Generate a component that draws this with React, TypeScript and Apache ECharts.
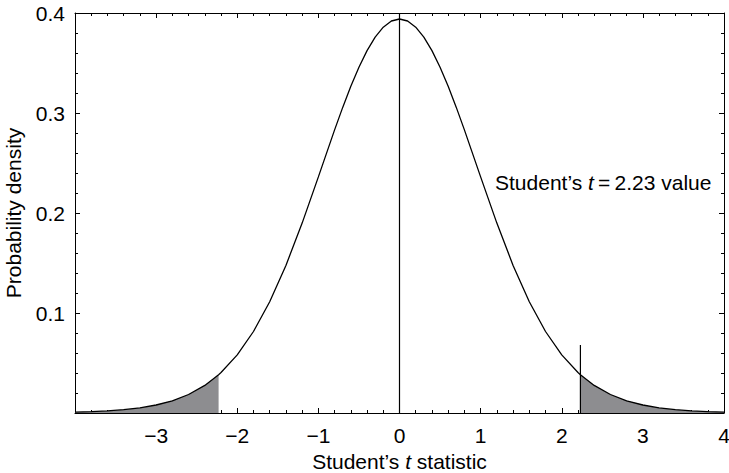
import React, { useEffect, useRef } from "react";
import * as echarts from "echarts";

// Curve (x = Student's t, y = probability density)
const tValues = [-4, -3.8, -3.6, -3.4, -3.2, -3, -2.8, -2.6, -2.4, -2.23, -2.2, -2, -1.8, -1.6, -1.4, -1.2, -1, -0.8, -0.7, -0.6, -0.5, -0.4, -0.3, -0.2, -0.1, 0, 0.1, 0.2, 0.3, 0.4, 0.5, 0.6, 0.7, 0.8, 1, 1.2, 1.4, 1.6, 1.8, 2, 2.2, 2.23, 2.4, 2.6, 2.8, 3, 3.2, 3.4, 3.6, 3.8, 4];
const density = [0.0008, 0.0013, 0.0021, 0.0033, 0.0051, 0.008, 0.0122, 0.0185, 0.0276, 0.0383, 0.0405, 0.0581, 0.0815, 0.1112, 0.1476, 0.1899, 0.2361, 0.2831, 0.3056, 0.3267, 0.3458, 0.3624, 0.3759, 0.3858, 0.392, 0.394, 0.392, 0.3858, 0.3759, 0.3624, 0.3458, 0.3267, 0.3056, 0.2831, 0.2361, 0.1899, 0.1476, 0.1112, 0.0815, 0.0581, 0.0405, 0.0383, 0.0276, 0.0185, 0.0122, 0.008, 0.0051, 0.0033, 0.0021, 0.0013, 0.0008];
const tCritical = 2.23;
const tMarkerTop = 0.068;
const xTicks = [-3, -2, -1, 0, 1, 2, 3, 4];
const yTicks = [0.1, 0.2, 0.3, 0.4];

const FONT = "Liberation Sans, Arial, Helvetica, sans-serif";
const FS = 21;

export default function App() {
  const ref = useRef<HTMLDivElement>(null);
  useEffect(() => {
    if (!ref.current) return;
    const chart = echarts.init(ref.current, null, { renderer: "svg" });
    const curve = tValues.map((x, i) => [x, density[i]]);
    const leftTail = curve.filter((p) => p[0] <= -tCritical);
    const rightTail = curve.filter((p) => p[0] >= tCritical);
    const fmtX = (v: number) =>
      xTicks.includes(Math.round(v * 1000) / 1000) ? String(v).replace("-", "\u2212") : "";
    const fmtY = (v: number) =>
      yTicks.includes(Math.round(v * 1000) / 1000) ? v.toFixed(1) : "";
    const tickCommon = {
      axisLine: { show: true, onZero: false, lineStyle: { color: "#000", width: 1 } },
      axisTick: { show: true, inside: true, length: 5, lineStyle: { color: "#000" } },
      minorTick: { show: true, splitNumber: 5, length: 3, lineStyle: { color: "#000" } },
      splitLine: { show: false },
    };
    chart.setOption({
      animation: false,
      backgroundColor: "#fff",
      grid: { left: 75, right: 5, top: 13, bottom: 60, containLabel: false, outerBoundsMode: "none" },
      xAxis: [
        {
          type: "value",
          min: -4,
          max: 4,
          interval: 1,
          position: "bottom",
          ...tickCommon,
          axisLabel: {
            color: "#000",
            fontSize: FS,
            fontFamily: FONT,
            margin: 12,
            formatter: fmtX,
          },
          name: "Student\u2019s {i|t} statistic",
          nameLocation: "middle",
          nameGap: 38,
          nameTextStyle: {
            color: "#000",
            fontSize: FS,
            fontFamily: FONT,
            rich: { i: { fontStyle: "italic", fontSize: FS, fontFamily: FONT, color: "#000" } },
          },
        },
        {
          type: "value",
          min: -4,
          max: 4,
          interval: 1,
          position: "top",
          ...tickCommon,
          axisLabel: { show: false },
        },
      ],
      yAxis: [
        {
          type: "value",
          min: 0,
          max: 0.4,
          interval: 0.1,
          position: "left",
          ...tickCommon,
          axisLabel: {
            color: "#000",
            fontSize: FS,
            fontFamily: FONT,
            margin: 10,
            formatter: fmtY,
          },
          name: "Probability density",
          nameLocation: "middle",
          nameGap: 51,
          nameRotate: 90,
          nameTextStyle: { color: "#000", fontSize: FS, fontFamily: FONT },
        },
        {
          type: "value",
          min: 0,
          max: 0.4,
          interval: 0.1,
          position: "right",
          ...tickCommon,
          axisLabel: { show: false },
        },
      ],
      series: [
        {
          type: "line",
          data: leftTail,
          symbol: "none",
          lineStyle: { width: 0 },
          areaStyle: { color: "#8d8d90", opacity: 1 },
          silent: true,
          z: 1,
        },
        {
          type: "line",
          data: rightTail,
          symbol: "none",
          lineStyle: { width: 0 },
          areaStyle: { color: "#8d8d90", opacity: 1 },
          silent: true,
          z: 1,
        },
        {
          type: "line",
          data: curve,
          symbol: "none",
          lineStyle: { color: "#000", width: 1.3 },
          z: 3,
        },
        {
          type: "line",
          data: [
            [0, 0],
            [0, 0.4],
          ],
          symbol: "none",
          lineStyle: { color: "#000", width: 1.2 },
          z: 3,
        },
        {
          type: "line",
          data: [
            [tCritical, 0],
            [tCritical, tMarkerTop],
          ],
          symbol: "none",
          lineStyle: { color: "#000", width: 1.2 },
          z: 3,
        },
      ],
      graphic: [
        {
          type: "text",
          left: 495,
          top: 172,
          style: {
            text: "Student\u2019s {i|t}\u2009=\u20092.23 value",
            fill: "#000",
            fontSize: FS,
            fontFamily: FONT,
            rich: { i: { fontStyle: "italic", fontSize: FS, fontFamily: FONT, fill: "#000" } },
          },
        },
      ],
    });
    return () => chart.dispose();
  }, []);
  return <div ref={ref} style={{ width: 729, height: 473, position: "absolute", left: 0, top: 0 }} />;
}
